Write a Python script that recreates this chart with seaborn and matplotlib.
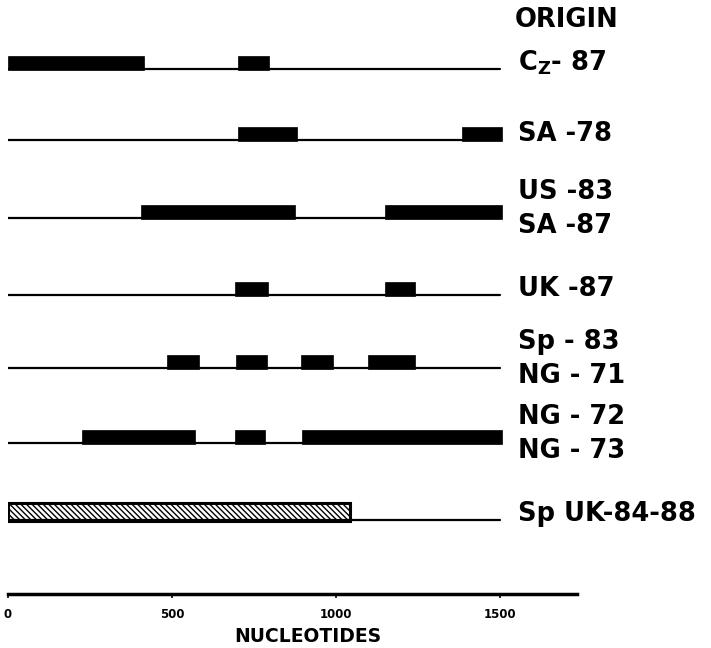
import matplotlib
matplotlib.use("Agg")
import matplotlib.pyplot as plt
import pandas as pd
import seaborn as sns

# virus isolates (origin labels, one or two per row)
origin_labels = [
    ["C$_\\mathrm{Z}$- 87"],
    ["SA -78"],
    ["US -83", "SA -87"],
    ["UK -87"],
    ["Sp - 83", "NG - 71"],
    ["NG - 72", "NG - 73"],
    ["Sp UK-84-88"],
]

# conserved / variable blocks, start and end in nucleotides
blocks_cz87 = [(0, 415), (700, 795)]
blocks_sa78 = [(700, 880), (1385, 1505)]
blocks_us83 = [(405, 875), (1150, 1505)]
blocks_uk87 = [(692, 793), (1150, 1240)]
blocks_sp83 = [(485, 582), (695, 790), (893, 990), (1097, 1240)]
blocks_ng72 = [(225, 570), (692, 783), (896, 1505)]
blocks_spuk = [(0, 1043)]
all_blocks = [blocks_cz87, blocks_sa78, blocks_us83, blocks_uk87,
              blocks_sp83, blocks_ng72, blocks_spuk]
hatched_row = 6

genome_length = 1500
tick_values = [0, 500, 1000, 1500]

sns.set_theme(style="white")
plt.rcParams["font.family"] = ["DejaVu Sans"]
plt.rcParams["text.color"] = "black"
plt.rcParams["mathtext.fontset"] = "custom"
plt.rcParams["mathtext.rm"] = "DejaVu Sans:bold"
plt.rcParams["mathtext.bf"] = "DejaVu Sans:bold"
plt.rcParams["mathtext.it"] = "DejaVu Sans:bold"
plt.rcParams["hatch.linewidth"] = 1.0

W, H = 711, 648
fig = plt.figure(figsize=(W / 100, H / 100), dpi=100)
ax = fig.add_axes([8 / W, 1 - 594 / H, (577 - 8) / W, 594 / H])
x_max = (577 - 8) / 0.328

# row baselines in axes units (top-down)
row_y = [69, 140, 218, 295, 368, 443, 520]

lines = pd.DataFrame({
    "row": [i for i in range(len(row_y)) for _ in range(2)],
    "nt": [0, genome_length] * len(row_y),
    "y": [y for y in row_y for _ in range(2)],
})
sns.lineplot(data=lines, x="nt", y="y", units="row", estimator=None,
             color="black", lw=1.6, ax=ax, legend=False)

h = 14
for i, blocks in enumerate(all_blocks):
    base = row_y[i]
    starts = [b[0] for b in blocks]
    widths = [b[1] - b[0] for b in blocks]
    if i == hatched_row:
        ax.barh(base - 8, widths, left=starts, height=18, color="white",
                edgecolor="black", lw=2.2, hatch="\\\\\\\\\\\\")
    else:
        ax.barh(base - h / 2 + 0.5, widths, left=starts, height=h,
                color="black", edgecolor="black", lw=0.5)

label_x = (518 - 8) / 0.328
for i, labs in enumerate(origin_labels):
    base = row_y[i]
    if len(labs) == 1:
        offsets = [-6]
    else:
        offsets = [-26, 8]
    for lab, off in zip(labs, offsets):
        ax.text(label_x, base + off, lab, fontsize=18.5, fontweight="bold",
                color="black", va="center", ha="left", clip_on=False)
ax.text((515 - 8) / 0.328, 20, "ORIGIN", fontsize=18.5, fontweight="bold",
        color="black", va="center", ha="left", clip_on=False)

ax.set_xlim(0, x_max)
ax.set_ylim(594, 0)
ax.set_yticks([])
ax.set_xticks(tick_values)
ax.set_xticklabels([str(t) for t in tick_values], fontsize=8.5,
                   fontweight="bold")
ax.tick_params(axis="x", direction="out", length=3, width=1.2, pad=7,
               bottom=True, colors="black")
for side in ["top", "left", "right"]:
    ax.spines[side].set_visible(False)
ax.spines["bottom"].set_linewidth(2.5)
ax.spines["bottom"].set_color("black")
ax.set_xlabel("")
ax.set_ylabel("")
ax.patch.set_alpha(0)

fig.text(308 / W, 1 - 637 / H, "NUCLEOTIDES", fontsize=13.5,
         fontweight="bold", color="black", ha="center", va="center")

fig.savefig("out.png", dpi=100)
